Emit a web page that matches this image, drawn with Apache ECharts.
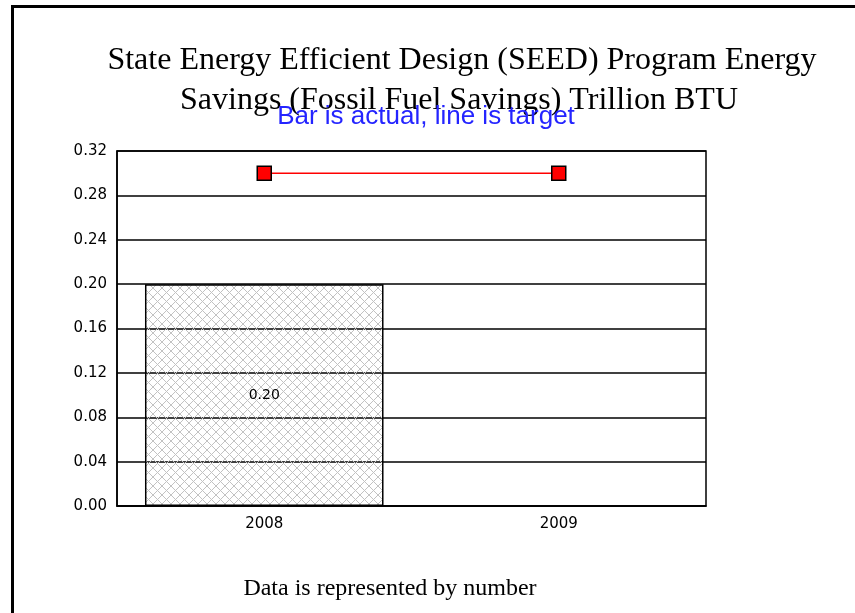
<!DOCTYPE html>
<html>
<head>
<meta charset="utf-8">
<script src="https://cdn.jsdelivr.net/npm/echarts@6/dist/echarts.min.js"></script>
<style>
  html, body { margin: 0; padding: 0; background: #fff; }
  #chart { width: 855px; height: 613px; }
</style>
</head>
<body>
<div id="chart"></div>
<script>
// data
const years = ['2008', '2009']
const actual = [0.20, null]
const target = [0.30, 0.30]
const yTicks = { min: 0, max: 0.32, step: 0.04 }

// crosshatch fill for the bar
const makeHatch = () => {
  const c = document.createElement('canvas')
  c.width = 9
  c.height = 9
  const ctx = c.getContext('2d')
  ctx.strokeStyle = '#c2c2c2'
  ctx.lineWidth = 1
  ctx.beginPath()
  ctx.moveTo(0, 0); ctx.lineTo(9, 9)
  ctx.moveTo(9, 0); ctx.lineTo(0, 9)
  ctx.stroke()
  return c
}

const labelFont = { fontFamily: 'DejaVu Sans', fontSize: 15, color: '#000' }

let myChart = echarts.init(document.getElementById('chart'))

let option = {
  animation: false,
  backgroundColor: '#fff',
  graphic: [
    // slide frame
    { type: 'line', shape: { x1: 12.5, y1: 5, x2: 12.5, y2: 613 }, style: { stroke: '#000', lineWidth: 3 } },
    { type: 'line', shape: { x1: 11, y1: 6.5, x2: 855, y2: 6.5 }, style: { stroke: '#000', lineWidth: 3 } },
    // titles
    { type: 'text', x: 462, y: 61, style: { text: 'State Energy Efficient Design (SEED) Program Energy', font: '32px "Liberation Serif"', fill: '#000', align: 'center', verticalAlign: 'middle' } },
    { type: 'text', x: 459, y: 101, style: { text: 'Savings (Fossil Fuel Savings) Trillion BTU', font: '32px "Liberation Serif"', fill: '#000', align: 'center', verticalAlign: 'middle' } },
    { type: 'text', x: 426, y: 117, z: 10, style: { text: 'Bar is actual, line is target', font: '26px "Liberation Sans"', fill: '#2424ff', align: 'center', verticalAlign: 'middle' } },
    { type: 'text', x: 390, y: 589, style: { text: 'Data is represented by number', font: '24px "Liberation Serif"', fill: '#000', align: 'center', verticalAlign: 'middle' } }
  ],
  grid: {
    left: 117,
    right: 149,
    top: 151,
    bottom: 107,
    show: true,
    borderColor: '#000',
    borderWidth: 1.5
  },
  xAxis: {
    type: 'category',
    data: years,
    axisLine: { lineStyle: { color: '#000', width: 1.5 } },
    axisTick: { show: false },
    axisLabel: Object.assign({ margin: 11 }, labelFont)
  },
  yAxis: {
    type: 'value',
    min: yTicks.min,
    max: yTicks.max,
    interval: yTicks.step,
    axisLine: { show: true, lineStyle: { color: '#000', width: 1.5 } },
    axisTick: { show: false },
    axisLabel: Object.assign({ margin: 10, formatter: v => v.toFixed(2) }, labelFont),
    splitLine: { lineStyle: { color: '#000', width: 1.5 } }
  },
  series: [
    {
      name: 'Actual',
      type: 'bar',
      data: actual,
      barWidth: '81%',
      itemStyle: {
        color: { image: makeHatch(), repeat: 'repeat' },
        borderColor: '#000',
        borderWidth: 1.5
      },
      label: {
        show: true,
        position: 'inside',
        formatter: p => p.value.toFixed(2),
        fontFamily: 'DejaVu Sans',
        fontSize: 14,
        color: '#000'
      }
    },
    {
      name: 'Target',
      type: 'line',
      data: target,
      symbol: 'rect',
      symbolSize: 14,
      lineStyle: { color: '#ff0000', width: 1.5 },
      itemStyle: { color: '#ff0000', borderColor: '#000', borderWidth: 1.5 },
      z: 5
    }
  ]
}
myChart.setOption(option)
</script>
</body>
</html>
